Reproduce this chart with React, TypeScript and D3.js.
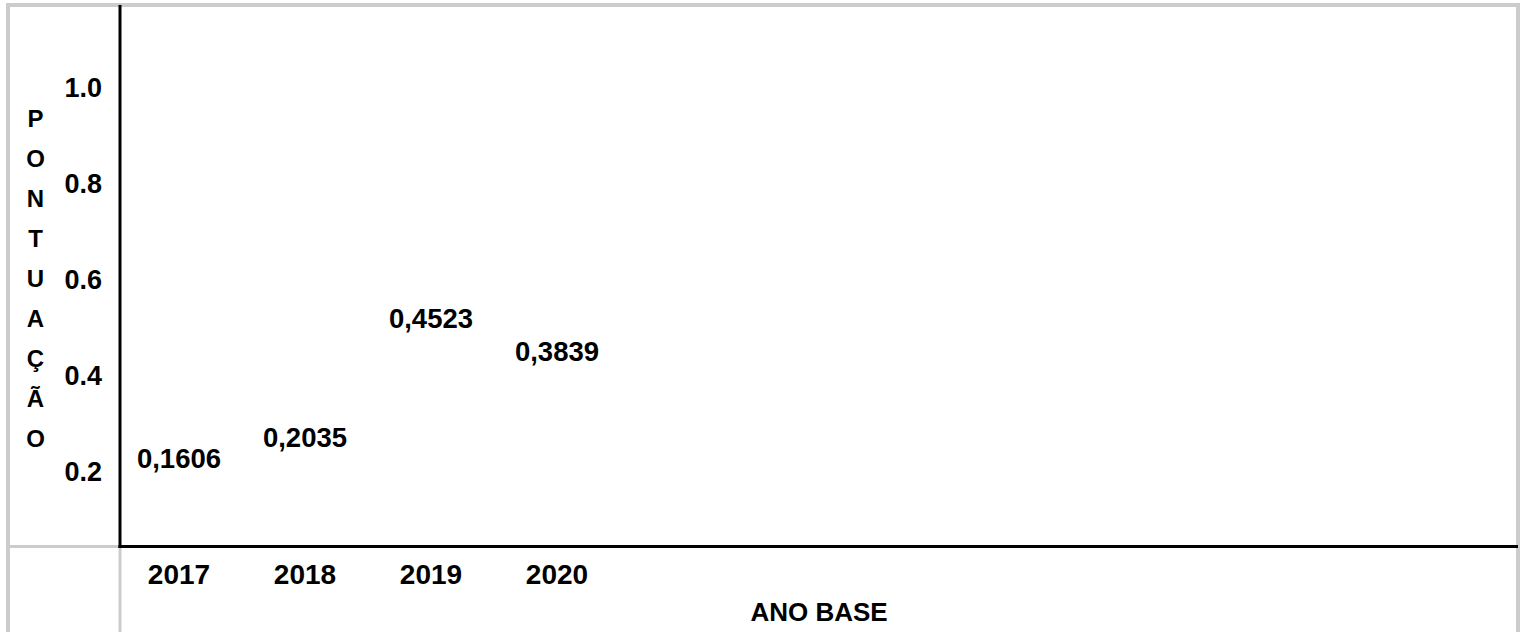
import { scaleLinear, scalePoint } from "d3";
import React from "react";

const years = ["2017", "2018", "2019", "2020"];
const scores = [0.1606, 0.2035, 0.4523, 0.3839];
const scoreLabels = ["0,1606", "0,2035", "0,4523", "0,3839"];
const yTicks = [0.2, 0.4, 0.6, 0.8, 1.0];
const yTitle = "PONTUAÇÃO".split("");
const xTitle = "ANO BASE";

const WIDTH = 1520;
const HEIGHT = 632;
const AXIS_X = 120;
const AXIS_Y = 546.5;
const FONT = "'Liberation Sans', Arial, sans-serif";
const GRID = "#cccccc";

export const App: React.FC = () => {
  const xScale = scalePoint<string>().domain(years).range([179, 557]);

  // tick label centres
  const yScale = scaleLinear().domain([0.2, 1.0]).range([471, 87.5]);

  const LABEL_OFFSET = 32;

  return (
    <div style={{ position: "absolute", left: 0, top: 0 }}>
      <svg width={WIDTH} height={HEIGHT} fontFamily={FONT} fontWeight="bold">
        <rect width={WIDTH} height={HEIGHT} fill="#fff" />

        {/* table-like frame */}
        <line x1={6} x2={WIDTH} y1={5} y2={5} stroke={GRID} strokeWidth={4} />
        <line x1={8} x2={8} y1={3} y2={HEIGHT} stroke={GRID} strokeWidth={4} />
        <line x1={1518} x2={1518} y1={3} y2={HEIGHT} stroke={GRID} strokeWidth={4} />
        <line x1={10} x2={AXIS_X} y1={AXIS_Y} y2={AXIS_Y} stroke={GRID} strokeWidth={3} />
        <line x1={AXIS_X} x2={AXIS_X} y1={AXIS_Y} y2={HEIGHT} stroke={GRID} strokeWidth={3} />

        {/* axes */}
        <line x1={AXIS_X} x2={AXIS_X} y1={5} y2={AXIS_Y + 1.5} stroke="#000" strokeWidth={3} />
        <line x1={AXIS_X - 1.5} x2={1518} y1={AXIS_Y} y2={AXIS_Y} stroke="#000" strokeWidth={3} />

        {/* y title, one letter per row */}
        <g fontSize="24" textAnchor="middle">
          {yTitle.map((c, i) => (
            <text key={i} x={35.5} y={118.5 + i * 40} dy="0.36em">
              {c}
            </text>
          ))}
        </g>

        {/* y ticks */}
        <g fontSize="27" textAnchor="end">
          {yTicks.map(v => (
            <text key={v} x={102} y={yScale(v)} dy="0.36em">
              {v.toFixed(1)}
            </text>
          ))}
        </g>

        {/* value labels */}
        <g fontSize="27.5" textAnchor="middle">
          {scores.map((v, i) => (
            <text key={i} x={xScale(years[i])} y={yScale(v) - LABEL_OFFSET} dy="0.36em">
              {scoreLabels[i]}
            </text>
          ))}
        </g>

        {/* x ticks */}
        <g fontSize="28" textAnchor="middle">
          {years.map(y => (
            <text key={y} x={xScale(y)} y={574} dy="0.36em">
              {y}
            </text>
          ))}
        </g>

        <text x={(AXIS_X + 1518) / 2} y={612} dy="0.36em" fontSize="26" textAnchor="middle">
          {xTitle}
        </text>
      </svg>
    </div>
  );
};

export default App;
